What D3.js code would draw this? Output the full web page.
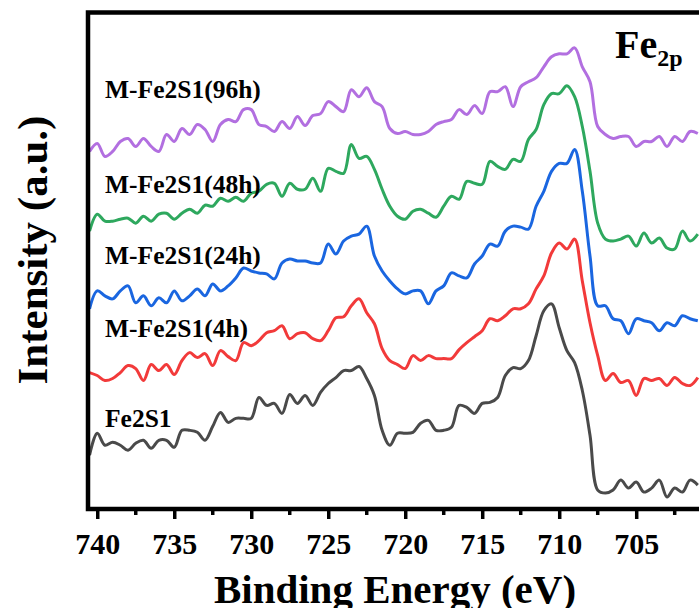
<!DOCTYPE html>
<html>
<head>
<meta charset="utf-8">
<title>Fe 2p XPS</title>
<script src="https://d3js.org/d3.v7.min.js"></script>
<style>
body {margin:0; background:white;}
svg {display:block;}
text {font-family:"Liberation Serif","Times New Roman",serif; font-weight:bold; fill:black;}
</style>
</head>
<body>
<svg width="699" height="608"></svg>

<script>
// binding energy (eV), one point every 0.5 eV
var energy = [740.5,740,739.5,739,738.5,738,737.5,737,736.5,736,
  735.5,735,734.5,734,733.5,733,732.5,732,731.5,731,
  730.5,730,729.5,729,728.5,728,727.5,727,726.5,726,
  725.5,725,724.5,724,723.5,723,722.5,722,721.5,721,
  720.5,720,719.5,719,718.5,718,717.5,717,716.5,716,
  715.5,715,714.5,714,713.5,713,712.5,712,711.5,711,
  710.5,710,709.5,709,708.5,708,707.5,707,706.5,706,
  705.5,705,704.5,704,703.5,703,702.5,702,701.5,701];

// intensity (a.u., stacked as plotted)
var fe2s1 = [52,74,62,65,62,57,64,67,59,67,
  67,60,77,77,75,67,81,95,85,89,
  89,89,110,102,104,94,113,104,112,102,
  115,124,130,137,137,141,129,112,77,62,
  74,74,75,84,87,77,77,80,102,100,
  94,104,105,110,132,140,139,147,172,197,
  204,180,157,145,117,72,17,14,17,27,
  19,25,15,19,27,10,19,15,27,22];

var h4 = [135,132,127,129,135,142,139,127,143,137,
  143,133,147,155,150,154,142,157,151,147,
  165,162,167,175,177,182,169,174,175,169,
  167,177,190,191,202,209,195,184,159,147,
  143,139,152,147,152,149,149,149,158,165,
  171,177,189,187,192,199,199,204,219,232,
  255,265,259,269,227,185,152,127,134,125,
  127,112,129,127,129,122,130,124,122,130];

var h24 = [199,217,212,209,217,222,205,212,202,210,
  205,217,207,212,219,212,224,217,222,230,
  240,237,235,234,229,245,249,247,247,245,
  245,264,254,267,272,274,282,252,237,227,
  219,214,217,217,204,217,222,235,232,230,
  244,252,264,262,277,282,281,279,302,317,
  337,345,345,359,317,252,202,202,189,187,
  174,189,187,185,177,185,182,192,189,187];

var h48 = [277,294,287,287,289,290,285,292,287,294,
  295,289,295,299,295,303,302,310,307,311,
  307,315,317,324,325,312,325,319,319,330,
  317,340,337,335,364,350,352,339,319,302,
  292,289,297,299,295,291,302,312,309,327,
  325,324,347,342,339,349,347,369,379,404,
  415,415,423,412,382,337,285,269,267,269,
  272,262,275,265,270,260,259,277,267,274];

var h96 = [357,365,352,357,367,370,362,370,362,357,
  374,367,380,374,384,379,367,384,389,387,
  399,399,384,382,377,387,380,392,383,393,
  395,407,402,397,419,412,421,407,402,380,
  375,377,374,374,377,384,387,389,399,394,
  403,395,417,417,422,402,422,427,431,442,
  452,455,455,461,442,427,382,374,370,372,
  372,362,367,367,372,362,372,367,377,375];

var names = ["Fe2S1", "M-Fe2S1(4h)", "M-Fe2S1(24h)", "M-Fe2S1(48h)", "M-Fe2S1(96h)"];
var colors = ["#4a4a4a", "#f23a3a", "#1a66e0", "#2ea85e", "#b26fe0"];
var labelY = [427, 337, 264, 193, 98];
var majorTicks = [740, 735, 730, 725, 720, 715, 710, 705];
var minorTicks = [737.5, 732.5, 727.5, 722.5, 717.5, 712.5, 707.5, 702.5];

var series = [fe2s1, h4, h24, h48, h96];

var svg = d3.select("svg");
var plotLeft = 88, plotTop = 12.5, plotRight = 713.2, plotBottom = 509;

var x = d3.scaleLinear().domain([740.6, 700]).range([plotLeft, plotRight]);
var y = d3.scaleLinear().domain([-2, 496.5]).range([plotBottom, plotTop]);

var line = d3.line()
  .x(function(d, i) { return x(energy[i]); })
  .y(function(d) { return y(d); })
  .curve(d3.curveCatmullRom.alpha(0.5));

svg.append("defs").append("clipPath").attr("id", "clip")
  .append("rect")
  .attr("x", plotLeft).attr("y", plotTop)
  .attr("width", plotRight - plotLeft).attr("height", plotBottom - plotTop);

svg.append("g")
  .attr("clip-path", "url(#clip)")
  .selectAll("path")
  .data(series)
  .enter()
  .append("path")
  .attr("d", line)
  .attr("fill", "none")
  .attr("stroke", function(d, i) { return colors[i]; })
  .attr("stroke-width", 3)
  .attr("stroke-linejoin", "round");

// curve labels
svg.selectAll(".lab")
  .data(names)
  .enter()
  .append("text")
  .attr("class", "lab")
  .attr("x", 105)
  .attr("y", function(d, i) { return labelY[i]; })
  .style("font-size", "25.5px")
  .text(function(d) { return d; });

// frame
svg.append("rect")
  .attr("x", plotLeft).attr("y", plotTop)
  .attr("width", plotRight - plotLeft).attr("height", plotBottom - plotTop)
  .attr("fill", "none")
  .attr("stroke", "black")
  .attr("stroke-width", 4.5);

// bottom axis
var xAxis = d3.axisBottom(x)
  .tickValues(majorTicks)
  .tickSize(10)
  .tickSizeOuter(0)
  .tickPadding(14)
  .tickFormat(d3.format("d"));
var gx = svg.append("g")
  .attr("transform", "translate(0," + plotBottom + ")")
  .call(xAxis);
gx.select(".domain").remove();
gx.selectAll(".tick line").attr("stroke", "black").attr("stroke-width", 3.5);
gx.selectAll(".tick text")
  .style("font-size", "30px")
  .style("font-family", "'Liberation Serif','Times New Roman',serif")
  .style("font-weight", "bold")
  .attr("fill", "black");

svg.append("g")
  .selectAll("line")
  .data(minorTicks)
  .enter()
  .append("line")
  .attr("x1", function(d) { return x(d); })
  .attr("x2", function(d) { return x(d); })
  .attr("y1", plotBottom)
  .attr("y2", plotBottom + 6)
  .attr("stroke", "black")
  .attr("stroke-width", 3.5);

// axis titles
svg.append("text")
  .attr("x", 395)
  .attr("y", 603)
  .attr("text-anchor", "middle")
  .style("font-size", "41px")
  .text("Binding Energy (eV)");

svg.append("text")
  .attr("transform", "translate(47,250) rotate(-90)")
  .attr("text-anchor", "middle")
  .style("font-size", "43px")
  .text("Intensity (a.u.)");

// Fe 2p tag
var tag = svg.append("text")
  .attr("x", 615)
  .attr("y", 58)
  .style("font-size", "40px");
tag.append("tspan").text("Fe");
tag.append("tspan")
  .attr("dy", 8)
  .style("font-size", "24px")
  .text("2p");
</script>
</body>
</html>
